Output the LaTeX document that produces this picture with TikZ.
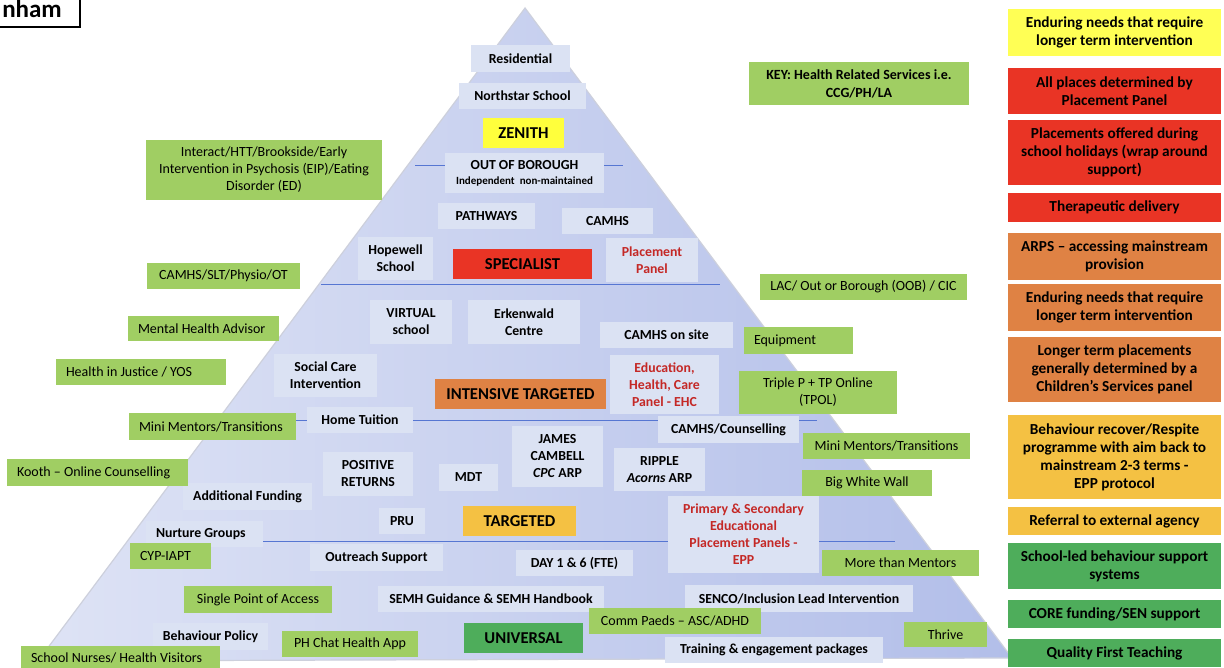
\documentclass[tikz,border=0pt]{standalone}
\usepackage{fontspec}
\setmainfont{Carlito}
\definecolor{paleC}{RGB}{219,226,243}
\definecolor{grnC}{RGB}{160,206,99}
\definecolor{dgrC}{RGB}{78,173,91}
\definecolor{redC}{RGB}{233,52,37}
\definecolor{oraC}{RGB}{223,130,68}
\definecolor{ambC}{RGB}{244,193,67}
\definecolor{yelC}{RGB}{255,255,85}
\definecolor{zenC}{RGB}{255,255,60}
\definecolor{redT}{RGB}{196,40,38}
\definecolor{pyrL}{RGB}{222,227,245}
\definecolor{pyrR}{RGB}{178,190,233}
\definecolor{pyrE}{RGB}{205,208,220}
\definecolor{lineC}{RGB}{86,118,210}
\newcommand\BX[7]{\node[#6, minimum width={(#4-#2)*1pt}, minimum height={(#5-#3)*1pt}] (#1) at ({(#2+#4)/2},{(#3+#5)/2}) {#7};}
\newcommand\BXL[7]{\pgfmathsetmacro\mytw{#4-#2-20}\node[#6, minimum height={(#5-#3)*1pt}, inner xsep=10pt, text width=\mytw pt, align=flush left] (#1) at ({(#2+#4)/2},{(#3+#5)/2}) {#7};}
\tikzset{
  pale/.style={fill=paleC, inner sep=0pt, align=center, font=\bfseries\fontsize{13.8}{17}\selectfont},
  grn/.style={fill=grnC, inner sep=0pt, align=center, font=\fontsize{14}{17}\selectfont},
  hdr/.style={inner sep=0pt, align=center, font=\bfseries\fontsize{16.6}{18}\selectfont},
  key/.style={inner sep=0pt, align=center, font=\bfseries\fontsize{15.3}{18}\selectfont},
  divl/.style={draw=lineC, line width=0.8pt}
}
\begin{document}
\begin{tikzpicture}[x=1pt,y=-1pt]
\useasboundingbox (0,0) rectangle (1224,668);
% title fragment
\draw[line width=1.5pt, fill=white] (-5,-5) rectangle (80,27);
\node[anchor=base east, inner sep=0pt, font=\bfseries\fontsize{25}{25}\selectfont] (title) at (62,18) {nham};
% pyramid
\path[left color=pyrL, right color=pyrR, draw=pyrE, line width=1.2pt] (525,8) -- (1012,658) -- (38,661) -- cycle;
% dividers
\draw[divl] (415,165) -- (623,165);
\draw[divl] (321,284) -- (720,284);
\draw[divl] (296,420) -- (817,420);
\draw[divl] (263,541) -- (895,541);
% pale boxes
\BX{p1}{471}{45}{570}{72}{pale}{Residential}
\BX{p2}{459}{83}{586}{109}{pale}{Northstar School}
\BX{h1}{483}{118}{564}{148}{hdr,fill=zenC}{ZENITH}
\BX{p3}{445}{153}{604}{193}{pale,font=\bfseries\fontsize{13.8}{15}\selectfont}{OUT OF BOROUGH\\{\fontsize{11}{12}\selectfont Independent\ \ non-maintained}}
\BX{p4}{438}{203}{535}{229}{pale}{PATHWAYS}
\BX{p5}{562}{208}{653}{234}{pale}{CAMHS}
\BX{p6}{358}{237}{433}{280}{pale}{Hopewell\\School}
\BX{h2}{453}{249}{592}{279}{hdr,fill=redC}{SPECIALIST}
\BX{p7}{606}{238}{698}{282}{pale,text=redT}{Placement\\Panel}
\BX{p8}{370}{300}{452}{344}{pale}{VIRTUAL\\school}
\BX{p9}{468}{300}{580}{344}{pale}{Erkenwald\\Centre}
\BX{p10}{600}{322}{733}{348}{pale}{CAMHS on site}
\BX{p11}{610}{355}{719}{414}{pale,text=redT}{Education,\\Health, Care\\Panel - EHC}
\BX{h3}{435}{379}{606}{409}{hdr,fill=oraC}{INTENSIVE TARGETED}
\BX{p12}{274}{354}{377}{397}{pale}{Social Care\\Intervention}
\BX{p13}{307}{407}{413}{433}{pale}{Home Tuition}
\BX{p14}{658}{416}{799}{443}{pale}{CAMHS/Counselling}
\BX{p15}{512}{426}{603}{487}{pale}{JAMES\\CAMBELL\\\textit{CPC} ARP}
\BX{p16}{614}{448}{705}{491}{pale}{RIPPLE\\\textit{Acorns} ARP}
\BX{p17}{323}{452}{413}{496}{pale}{POSITIVE\\RETURNS}
\BX{p18}{439}{464}{498}{491}{pale}{MDT}
\BX{p19}{183}{483}{312}{510}{pale}{Additional Funding}
\BX{p20}{379}{508}{425}{534}{pale}{PRU}
\BX{h4}{463}{506}{576}{536}{hdr,fill=ambC}{TARGETED}
\BX{p21}{668}{496}{819}{573}{pale,text=redT}{Primary \& Secondary\\Educational\\Placement Panels -\\EPP}
\BXL{p22}{146}{521}{263}{547}{pale}{Nurture Groups}
\BX{p23}{310}{544}{443}{571}{pale}{Outreach Support}
\BX{p24}{516}{550}{633}{576}{pale}{DAY 1 \& 6 (FTE)}
\BX{p25}{378}{586}{604}{612}{pale}{SEMH Guidance \& SEMH Handbook}
\BX{p26}{685}{585}{913}{612}{pale}{SENCO/Inclusion Lead Intervention}
\BX{p27}{153}{623}{268}{650}{pale}{Behaviour Policy}
\BX{h5}{464}{623}{583}{653}{hdr,fill=dgrC}{UNIVERSAL}
\BX{p28}{665}{637}{883}{663}{pale}{Training \& engagement packages}
% green boxes
\BX{g1}{146}{140}{382}{200}{grn}{Interact/HTT/Brookside/Early\\Intervention in Psychosis (EIP)/Eating\\Disorder (ED)}
\BX{g2}{147}{263}{300}{289}{grn}{CAMHS/SLT/Physio/OT}
\BXL{g3}{128}{316}{279}{341}{grn}{Mental Health Advisor}
\BXL{g4}{56}{359}{226}{385}{grn}{Health in Justice / YOS}
\BXL{g5}{129}{413}{296}{440}{grn}{Mini Mentors/Transitions}
\BXL{g6}{7}{459}{188}{486}{grn}{Kooth – Online Counselling}
\BXL{g7}{130}{543}{211}{569}{grn}{CYP-IAPT}
\BX{g8}{184}{586}{332}{613}{grn}{Single Point of Access}
\BXL{g9}{21}{646}{220}{670}{grn}{School Nurses/ Health Visitors}
\BX{g10}{282}{631}{418}{657}{grn}{PH Chat Health App}
\BX{g11}{749}{62}{969}{105}{grn,font=\bfseries\fontsize{14}{18}\selectfont}{KEY: Health Related Services i.e.\\CCG/PH/LA}
\BX{g12}{760}{274}{967}{300}{grn}{LAC/ Out or Borough (OOB) / CIC}
\BXL{g13}{744}{327}{853}{354}{grn}{Equipment}
\BX{g14}{739}{371}{897}{414}{grn}{Triple P + TP Online\\(TPOL)}
\BX{g15}{803}{433}{970}{459}{grn}{Mini Mentors/Transitions}
\BX{g16}{802}{470}{932}{496}{grn}{Big White Wall}
\BX{g17}{822}{550}{979}{576}{grn}{More than Mentors}
\BX{g18}{904}{622}{987}{647}{grn}{Thrive}
\BX{g19}{589}{608}{761}{634}{grn}{Comm Paeds – ASC/ADHD}
% right column key
\BX{k1}{1008}{9}{1221}{56}{key,fill=yelC}{Enduring needs that require\\longer term intervention}
\BX{k2}{1008}{68}{1221}{114}{key,fill=redC}{All places determined by\\Placement Panel}
\BX{k3}{1008}{120}{1221}{185}{key,fill=redC}{Placements offered during\\school holidays (wrap around\\support)}
\BX{k4}{1008}{193}{1221}{222}{key,fill=redC}{Therapeutic delivery}
\BX{k5}{1008}{233}{1221}{280}{key,fill=oraC}{ARPS – accessing mainstream\\provision}
\BX{k6}{1008}{284}{1221}{331}{key,fill=oraC}{Enduring needs that require\\longer term intervention}
\BX{k7}{1008}{337}{1221}{402}{key,fill=oraC}{Longer term placements\\generally determined by a\\Children’s Services panel}
\BX{k8}{1008}{415}{1221}{499}{key,fill=ambC}{Behaviour recover/Respite\\programme with aim back to\\mainstream 2-3 terms -\\EPP protocol}
\BX{k9}{1008}{507}{1221}{535}{key,fill=ambC}{Referral to external agency}
\BX{k10}{1008}{543}{1221}{589}{key,fill=dgrC}{School-led behaviour support\\systems}
\BX{k11}{1008}{600}{1221}{628}{key,fill=dgrC}{CORE funding/SEN support}
\BX{k12}{1008}{639}{1221}{667}{key,fill=dgrC}{Quality First Teaching}
\end{tikzpicture}
\end{document}
